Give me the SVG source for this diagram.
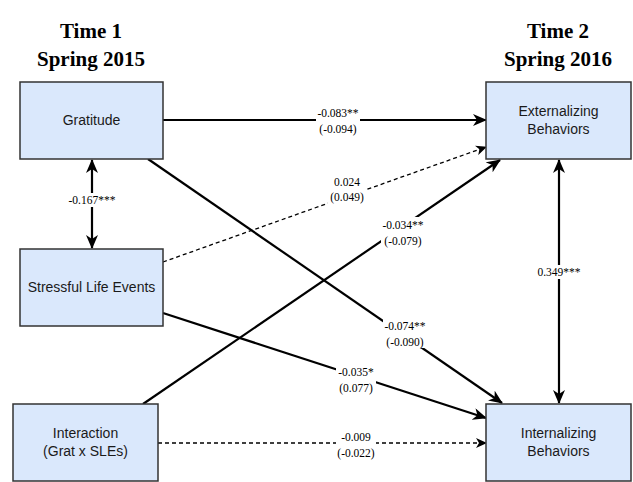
<svg xmlns="http://www.w3.org/2000/svg" width="633" height="482" viewBox="0 0 633 482">
<style>
.title{font-family:"Liberation Serif",serif;font-weight:bold;font-size:21px;fill:#000;text-anchor:middle}
.box{fill:#dae8fc;stroke:#333;stroke-width:1.5}
.ntext{font-family:"Liberation Sans",Arial,sans-serif;font-size:14px;fill:#1a1a1a;text-anchor:middle}
.edge{stroke:#000;stroke-width:2.2;fill:none}
.dash{stroke:#000;stroke-width:1.3;fill:none;stroke-dasharray:4 3}
.lbg{fill:#fff}
.lt{font-family:"Liberation Serif",serif;font-size:11.5px;fill:#000;text-anchor:middle}
</style>
<defs>
<marker id="ah" viewBox="0 0 14 12" refX="13" refY="6" markerWidth="14" markerHeight="12" markerUnits="userSpaceOnUse" orient="auto-start-reverse">
<path d="M0,0 L14,6 L0,12 L4,6 z" fill="#000"/>
</marker>
<marker id="ahs" viewBox="0 0 11 10" refX="10" refY="5" markerWidth="11" markerHeight="10" markerUnits="userSpaceOnUse" orient="auto-start-reverse">
<path d="M0,0 L11,5 L0,10 L3,5 z" fill="#000"/>
</marker>
</defs>
<g id="titles">
<text class="title" x="91" y="38">Time 1</text>
<text class="title" x="91" y="66">Spring 2015</text>
<text class="title" x="558" y="38">Time 2</text>
<text class="title" x="558" y="66">Spring 2016</text>
</g>
<g id="connectors">
<line class="edge" x1="163" y1="120" x2="486" y2="120" marker-end="url(#ah)"/>
<line class="edge" x1="92" y1="160" x2="92" y2="248" marker-start="url(#ah)" marker-end="url(#ah)"/>
<line class="dash" x1="163" y1="262" x2="486" y2="147" marker-end="url(#ahs)"/>
<line class="edge" x1="143" y1="404" x2="500" y2="160" marker-end="url(#ah)"/>
<line class="edge" x1="148" y1="159" x2="502" y2="403" marker-end="url(#ah)"/>
<line class="edge" x1="163" y1="313" x2="486" y2="418" marker-end="url(#ah)"/>
<line class="dash" x1="158" y1="443" x2="486" y2="443" marker-end="url(#ahs)"/>
<line class="edge" x1="559" y1="160" x2="559" y2="403" marker-start="url(#ah)" marker-end="url(#ah)"/>
<rect class="lbg" x="316" y="107" width="44" height="30"/>
<text class="lt" x="338" y="117">-0.083**</text>
<text class="lt" x="338" y="133">(-0.094)</text>
<rect class="lbg" x="66" y="193" width="52" height="14"/>
<text class="lt" x="92" y="204">-0.167***</text>
<rect class="lbg" x="328" y="174" width="38" height="30"/>
<text class="lt" x="347" y="186">0.024</text>
<text class="lt" x="347" y="201">(0.049)</text>
<rect class="lbg" x="381" y="217" width="44" height="30"/>
<text class="lt" x="403" y="229">-0.034**</text>
<text class="lt" x="403" y="245">(-0.079)</text>
<rect class="lbg" x="383" y="318" width="44" height="30"/>
<text class="lt" x="405" y="330">-0.074**</text>
<text class="lt" x="405" y="346">(-0.090)</text>
<rect class="lbg" x="336" y="364" width="40" height="30"/>
<text class="lt" x="356" y="376">-0.035*</text>
<text class="lt" x="356" y="392">(0.077)</text>
<rect class="lbg" x="336" y="429" width="40" height="30"/>
<text class="lt" x="356" y="441">-0.009</text>
<text class="lt" x="356" y="457">(-0.022)</text>
<rect class="lbg" x="535" y="265" width="48" height="14"/>
<text class="lt" x="559" y="276">0.349***</text>
</g>
<g id="gratitude">
<rect class="box" x="20" y="82" width="143" height="77"/>
<text class="ntext" x="91.5" y="125">Gratitude</text>
</g>
<g id="sle">
<rect class="box" x="20" y="249" width="143" height="77"/>
<text class="ntext" x="91.5" y="292">Stressful Life Events</text>
</g>
<g id="interaction">
<rect class="box" x="13" y="404" width="145" height="77"/>
<text class="ntext" x="85.5" y="438">Interaction</text>
<text class="ntext" x="85.5" y="456">(Grat x SLEs)</text>
</g>
<g id="externalizing">
<rect class="box" x="486" y="82" width="145" height="77"/>
<text class="ntext" x="558.5" y="116">Externalizing</text>
<text class="ntext" x="558.5" y="134">Behaviors</text>
</g>
<g id="internalizing">
<rect class="box" x="486" y="404" width="145" height="77"/>
<text class="ntext" x="558.5" y="438">Internalizing</text>
<text class="ntext" x="558.5" y="456">Behaviors</text>
</g>
</svg>
